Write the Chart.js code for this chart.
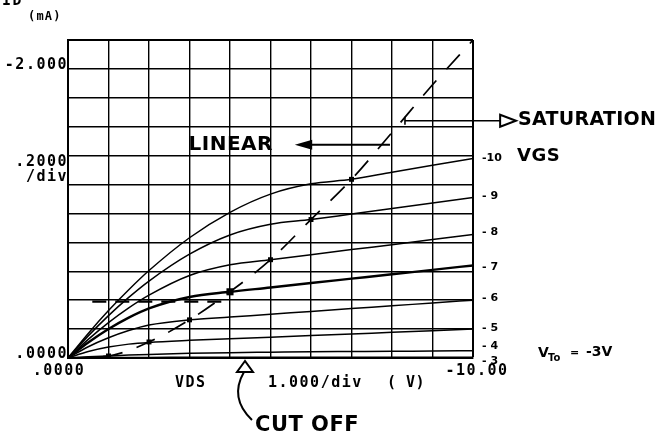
<!DOCTYPE html>
<html><head><meta charset="utf-8">
<script src="https://cdn.jsdelivr.net/npm/chart.js@4/dist/chart.umd.min.js"></script>
<style>html,body{margin:0;padding:0;background:#fff}canvas{display:block}</style>
</head><body>
<canvas id="c" width="658" height="444"></canvas>
<script>
// Drain-source voltage samples (V)
const vds = [0,-0.5,-1,-1.5,-2,-3,-4,-5,-6,-7,-8,-9,-10];
// Drain current (mA) for each gate-source voltage
const idVgsM10 = [0,-0.170,-0.328,-0.472,-0.605,-0.832,-1.008,-1.134,-1.205,-1.236,-1.285,-1.333,-1.380];
const idVgsM9  = [0,-0.153,-0.293,-0.419,-0.532,-0.718,-0.851,-0.925,-0.958,-0.996,-1.034,-1.072,-1.110];
const idVgsM8  = [0,-0.129,-0.245,-0.347,-0.435,-0.571,-0.645,-0.680,-0.715,-0.750,-0.784,-0.819,-0.854];
const idVgsM7  = [0,-0.107,-0.200,-0.279,-0.343,-0.422,-0.458,-0.488,-0.519,-0.549,-0.579,-0.610,-0.640];
const idVgsM6  = [0,-0.078,-0.140,-0.190,-0.228,-0.264,-0.283,-0.303,-0.322,-0.342,-0.361,-0.381,-0.400];
const idVgsM5  = [0,-0.045,-0.076,-0.096,-0.108,-0.122,-0.133,-0.144,-0.155,-0.166,-0.178,-0.189,-0.200];
const idVgsM4  = [0,-0.008,-0.014,-0.020,-0.025,-0.032,-0.037,-0.040,-0.043,-0.045,-0.047,-0.048,-0.050];
const idVgsM3  = [0,-0.002,-0.003,-0.004,-0.004,-0.005,-0.005,-0.005,-0.006,-0.006,-0.006,-0.006,-0.006];
const vgsLabels = ['-10','-9','-8','-7','-6','-5','-4','-3'];
// Saturation boundary (dashed)
const satVds = [0,-1,-2,-3,-4,-5,-6,-7,-8,-9,-10];
const satId  = [0,-0.014,-0.111,-0.264,-0.458,-0.680,-0.958,-1.236,-1.560,-1.890,-2.200];
// Saturation-point markers
const markVds = [-1,-2,-3,-4,-5,-6,-7];
const markId  = [-0.014,-0.111,-0.264,-0.458,-0.680,-0.958,-1.236];
// Short dashed trace
const dashVds = [-0.6,-4.0];
const dashId  = [-0.39,-0.39];
// Tick labels
const xTickVals = [0,-10];
const xTickLabels = ['.0000','-10.00'];
const yTickVals = [0,-2];
const yTickLabels = ['.0000','-2.000'];

const curves = [idVgsM10,idVgsM9,idVgsM8,idVgsM7,idVgsM6,idVgsM5,idVgsM4,idVgsM3];
const datasets = curves.map((arr,i)=>({
  label:'VGS '+vgsLabels[i],
  data: vds.map((v,j)=>({x:v,y:arr[j]})),
  borderColor:'#000', borderWidth: i===3?2.4:1.5,
  pointRadius:0, cubicInterpolationMode:'monotone', fill:false
}));
datasets.push({
  label:'saturation', data: satVds.map((v,j)=>({x:v,y:satId[j]})),
  borderColor:'#000', borderWidth:1.7, borderDash:[20,15], pointRadius:0,
  cubicInterpolationMode:'monotone', fill:false
});
datasets.push({
  label:'trace', data: dashVds.map((v,j)=>({x:v,y:dashId[j]})),
  borderColor:'#000', borderWidth:2.3, borderDash:[14,9], pointRadius:0, fill:false
});
datasets.push({
  label:'markers', data: markVds.map((v,j)=>({x:v,y:markId[j]})),
  showLine:false, pointStyle:'rect', backgroundColor:'#000', borderColor:'#000',
  pointRadius: markVds.map((v,j)=> j===3?5:3.5), borderWidth:0
});

function txt(ctx, s, x, y, font, align, ls){
  ctx.save();
  ctx.font = font; ctx.fillStyle='#000'; ctx.textAlign = align||'left'; ctx.textBaseline='middle';
  try { ctx.letterSpacing = ls||'0px'; } catch(e){}
  ctx.fillText(s, x, y);
  ctx.restore();
}
const mono = 'bold 15px "DejaVu Sans Mono"';
const annot = {
  id:'annot',
  afterDraw(chart){
    const ctx = chart.ctx, X = v=>chart.scales.x.getPixelForValue(v), Y = v=>chart.scales.y.getPixelForValue(v);
    const ca = chart.chartArea;
    // axis labels
    txt(ctx,'ID',2,1,'bold 15px "DejaVu Sans Mono"','left','1.5px');
    txt(ctx,'(mA)',28,17,'bold 12px "DejaVu Sans Mono"','left','1.2px');
    yTickVals.forEach((v,i)=>txt(ctx,yTickLabels[i],ca.left,Y(v)-4,mono,'right','1.5px'));
    txt(ctx,'.2000',ca.left,162,mono,'right','1.5px');
    txt(ctx,'/div',ca.left,177,mono,'right','1.5px');
    txt(ctx,xTickLabels[0],X(xTickVals[0])-9,ca.bottom+13,mono,'center','1.5px');
    txt(ctx,xTickLabels[1],X(xTickVals[1])+4,ca.bottom+13,mono,'center','1.5px');
    txt(ctx,'VDS',175,ca.bottom+25,mono,'left','1.5px');
    txt(ctx,'1.000/div',268,ca.bottom+25,mono,'left','1.5px');
    txt(ctx,'( V)',387,ca.bottom+25,mono,'left','0.5px');
    // VGS labels at curve ends
    const offs = [0,-1,-2,2,-2,-1,-5,4];
    curves.forEach((arr,i)=>{
      txt(ctx, i===0? '-10' : '- '+vgsLabels[i].slice(1), ca.right+9, Y(arr[arr.length-1])+offs[i], 'bold 11px "DejaVu Sans"','left','0px');
    });
    txt(ctx,'VGS',517,156,'bold 18px "DejaVu Sans"','left','0.5px');
    txt(ctx,'V',538,353,'bold 14px "DejaVu Sans"','left');
    txt(ctx,'To',548,358,'bold 10px "DejaVu Sans"','left');
    txt(ctx,'=',570,353,'bold 11px "DejaVu Sans"','left');
    txt(ctx,'-3V',586,352,'bold 14px "DejaVu Sans"','left');
    // LINEAR
    txt(ctx,'LINEAR',273,145,'bold 20px "DejaVu Sans"','right','0.5px');
    ctx.save(); ctx.strokeStyle='#000'; ctx.fillStyle='#000'; ctx.lineWidth=2;
    let ly = Y(-1.475);
    ctx.beginPath(); ctx.moveTo(X(-6.0),ly); ctx.lineTo(X(-7.95),ly); ctx.stroke();
    ctx.beginPath(); ctx.moveTo(X(-5.6),ly); ctx.lineTo(X(-6.03),ly-5); ctx.lineTo(X(-6.03),ly+5); ctx.closePath(); ctx.fill();
    // SATURATION
    let sy = Y(-1.641);
    ctx.lineWidth=1.6;
    ctx.beginPath(); ctx.moveTo(X(-8.32),sy); ctx.lineTo(X(-10.67),sy); ctx.stroke();
    ctx.beginPath(); ctx.moveTo(X(-8.32),sy-4); ctx.lineTo(X(-8.32),sy+4); ctx.stroke();
    ctx.lineWidth=2;
    ctx.beginPath(); ctx.moveTo(X(-11.06),sy); ctx.lineTo(X(-10.67),sy-6); ctx.lineTo(X(-10.67),sy+6); ctx.closePath(); ctx.stroke();
    // CUT OFF
    const cx = X(-4.37);
    ctx.beginPath(); ctx.moveTo(cx,ca.bottom+3); ctx.lineTo(cx-8,ca.bottom+14); ctx.lineTo(cx+8,ca.bottom+14); ctx.closePath(); ctx.stroke();
    ctx.beginPath(); ctx.moveTo(cx-1,ca.bottom+14); ctx.quadraticCurveTo(cx-16,ca.bottom+40,cx+7,ca.bottom+62); ctx.stroke();
    ctx.restore();
    txt(ctx,'SATURATION',518,120,'bold 19px "DejaVu Sans"','left','0.3px');
    txt(ctx,'CUT OFF',255,426,'bold 21px "DejaVu Sans"','left','0.5px');
  }
};

new Chart(document.getElementById('c'), {
  type:'line',
  data:{datasets},
  plugins:[annot],
  options:{
    responsive:false, animation:false, devicePixelRatio:1,
    layout:{padding:{left:0,top:40,right:185,bottom:0}},
    plugins:{legend:{display:false},tooltip:{enabled:false}},
    scales:{
      x:{type:'linear',min:-10,max:0,reverse:true,
        ticks:{stepSize:1,display:false},
        grid:{color:'#000',lineWidth:c=>(c.tick&&c.tick.value===-10)?2:1.4,drawTicks:false},
        border:{display:true,color:'#000',width:2},
        afterFit:s=>{s.height=86;}},
      y:{type:'linear',min:-2.2,max:0,reverse:true,
        ticks:{stepSize:0.2,display:false},
        grid:{color:'#000',lineWidth:c=>(c.tick&&Math.abs(c.tick.value+2.2)<1e-6)?2:1.4,drawTicks:false},
        border:{display:true,color:'#000',width:2},
        afterFit:s=>{s.width=68;}}
    }
  }
});
</script>
</body></html>
